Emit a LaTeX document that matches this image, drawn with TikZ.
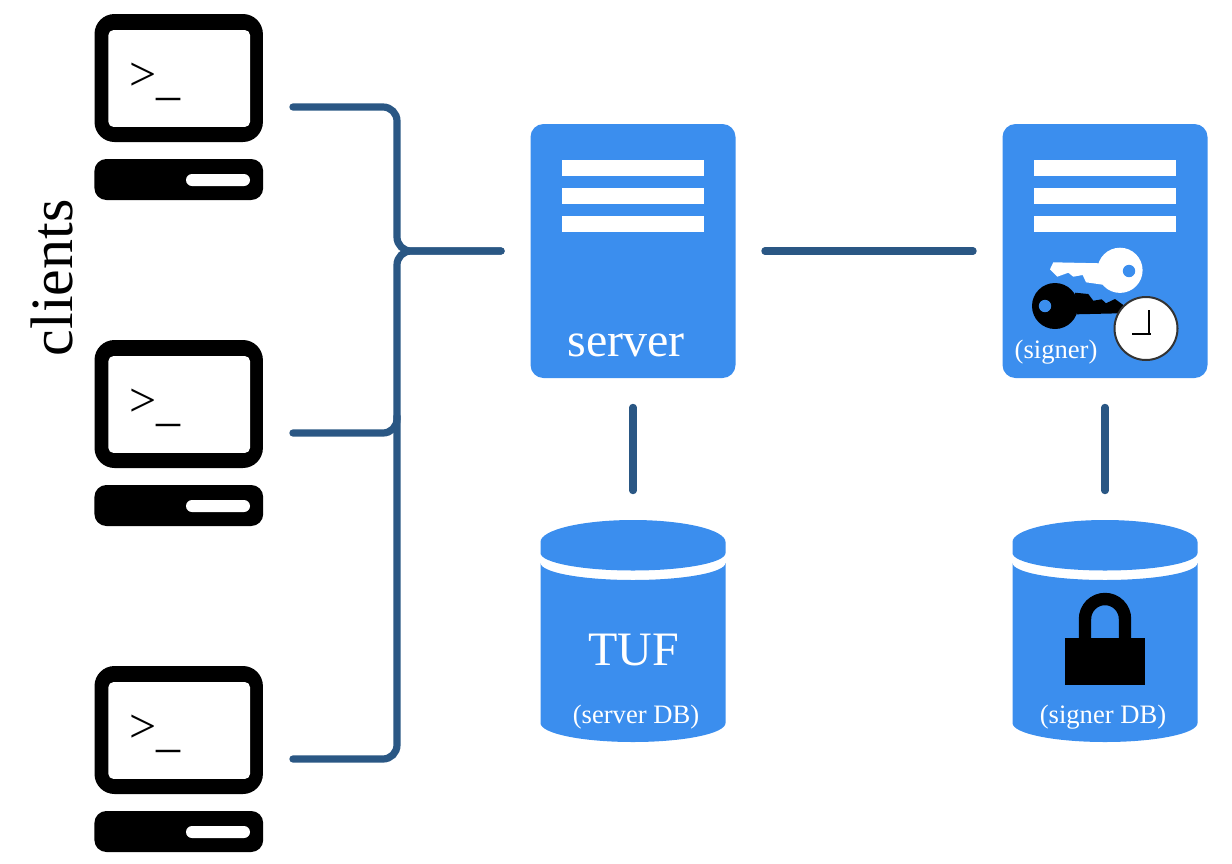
\documentclass[tikz,border=0pt]{standalone}
\usepackage{fontspec}
\setmainfont{Liberation Serif}
\usepackage{xcolor}
\usetikzlibrary{positioning, calc}
\definecolor{boxblue}{HTML}{3B8EEE}
\definecolor{linkblue}{HTML}{2A5784}
\newcommand{\clientbox}[2]{
\node[clientframe] (#1) at (179,#2) {};
\node[monitor] (#1monitor) at (178.7,#2-29) {};
\node[screen] (#1screen) at (179.2,#2-28.5) {};
\node[clientbase] (#1base) at (178.8,#2+72.5) {};
\node[slot] (#1slot) at (218,#2+73) {};
\node[prompt] (#1prompt) at (155,#2-25) {>\raisebox{-2pt}{\_}};
}
\newcommand{\srvbox}[2]{
\node[srv] (#1) at (#2,251) {};
\node[barline] (#1bara) at (#2,168) {};
\node[barline] (#1barb) at (#2,196) {};
\node[barline] (#1barc) at (#2,223.5) {};
}
\newcommand{\dbcyl}[2]{
\node[dbframe] (#1) at (#2,631) {};
\fill[boxblue] (#2-92.5,542) arc (180:0:46.25pt and 11pt) -- (#2+92.5,553)
  arc (0:-180:46.25pt and 8.75pt) -- cycle;
\fill[boxblue] (#2-92.5,563) arc (180:360:46.25pt and 8.5pt) -- (#2+92.5,723)
  arc (0:-180:46.25pt and 9.5pt) -- cycle;
}

\begin{document}
\begin{tikzpicture}[
  x=0.5pt, y=-0.5pt,
  every node/.style={align=center, inner sep=0pt},
  clientframe/.style={rectangle, minimum width=84.5pt, minimum height=93pt},
  monitor/.style={rectangle, rounded corners=10pt, fill=black, minimum width=84.2pt, minimum height=64pt},
  screen/.style={rectangle, rounded corners=2.5pt, fill=white, minimum width=70.8pt, minimum height=48.4pt},
  clientbase/.style={rectangle, rounded corners=6pt, fill=black, minimum width=84.4pt, minimum height=20.5pt},
  slot/.style={rectangle, rounded corners=3pt, fill=white, minimum width=32pt, minimum height=6pt},
  prompt/.style={font=\fontsize{24}{24}\selectfont},
  srv/.style={rectangle, rounded corners=6.5pt, fill=boxblue, minimum width=102.5pt, minimum height=127pt},
  barline/.style={rectangle, fill=white, minimum width=71pt, minimum height=8pt},
  dbframe/.style={rectangle, minimum width=92.5pt, minimum height=111pt},
  bigtext/.style={text=white, font=\fontsize{24}{24}\selectfont},
  smalltext/.style={text=white, font=\fontsize{13.3}{14}\selectfont},
  clockface/.style={circle, draw=black!80, line width=1pt, fill=white, minimum size=31.5pt},
  link/.style={draw=linkblue, line width=3.6pt, line cap=round},
  gapped/.style={shorten <=14.5pt, shorten >=14.5pt}
]
\useasboundingbox (0,0) rectangle (1232,863);

\clientbox{clienta}{107}
\clientbox{clientb}{433}
\clientbox{clientc}{759}
\srvbox{server}{633}
\srvbox{signer}{1105}
\dbcyl{serverdb}{633}
\dbcyl{signerdb}{1105}

\node[rotate=90, font=\fontsize{30}{30}\selectfont] (clients) at (52,278) {clients};
\node[bigtext] (servername) at (626,345) {server};
\node[bigtext] (tuf) at (634,650) {TUF};
\node[smalltext] (serverdbname) at (636,717) {(server DB)};

\fill[white] (1053.3,262.3) -- (1100,263.3) -- (1105,285) -- (1086,282.3) -- (1082.7,275) -- (1073.3,276.7) -- (1068.3,272.7) -- (1057.3,276.7) -- (1050,269.3) -- cycle;
\fill[white] (1120,270.3) circle (11.3pt);
\fill[boxblue] (1129,271) circle (3.1pt);
\fill[black] (1075,292.7) -- (1088.3,294) -- (1093.3,300.7) -- (1101.7,299.3) -- (1106,303.3) -- (1115,299) -- (1123.3,305) -- (1120,313.3) -- (1076.7,314.3) -- cycle;
\fill[black] (1055,306) circle (11.5pt);
\fill[boxblue] (1045,306) circle (3.1pt);
\node[clockface] (clock) at (1146,328.5) {};
\draw[black, line width=1pt] (1149,310) -- (1149,335);
\draw[black, line width=1pt] (1132,334) -- (1151,334);
\node[smalltext] (signername) at (1056,352) {(signer)};

\draw[black, line width=6.2pt] (1085,638) -- (1085,619) arc (180:0:10pt) -- (1125,638);
\fill[black] (1065,638) rectangle (1144.5,684.5);
\node[smalltext] (signerdbname) at (1103,717) {(signer DB)};

\draw[link, rounded corners=7pt, shorten <=14.5pt, shorten >=14.5pt] (clienta.east) -| (397,251) -- (server.west);
\draw[link, rounded corners=7pt, shorten <=14.5pt, shorten >=14.5pt] (clientc.east) -| (397,251) -- (server.west);
\draw[link, rounded corners=7pt, shorten <=14.5pt] (clientb.east) -| (397,416);
\draw[link, gapped] (server.east) -- (signer.west);
\draw[link, gapped] (server.south) -- (serverdb.north);
\draw[link, gapped] (signer.south) -- (signerdb.north);
\end{tikzpicture}
\end{document}
